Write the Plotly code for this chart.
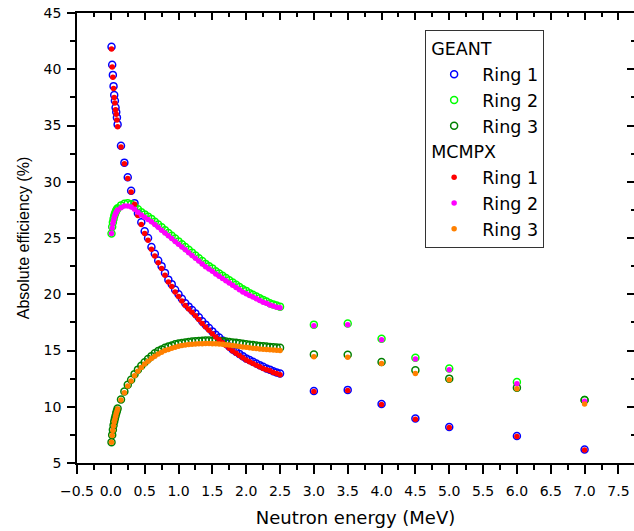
import plotly.graph_objects as go

# Neutron energy grid (MeV)
energy = [0.01, 0.02, 0.03, 0.04, 0.05, 0.06, 0.07, 0.08, 0.09, 0.10,
          0.15, 0.20, 0.25, 0.30, 0.35, 0.40, 0.45, 0.50, 0.55, 0.60,
          0.65, 0.70, 0.75, 0.80, 0.85, 0.90, 0.95, 1.00,
          1.05, 1.10, 1.15, 1.20, 1.25, 1.30, 1.35, 1.40, 1.45, 1.50,
          1.55, 1.60, 1.65, 1.70, 1.75, 1.80, 1.85, 1.90, 1.95, 2.00,
          2.05, 2.10, 2.15, 2.20, 2.25, 2.30, 2.35, 2.40, 2.45, 2.50,
          3.0, 3.5, 4.0, 4.5, 5.0, 6.0, 7.0]

# Absolute efficiency (%) - GEANT
geant_ring1 = [42.0, 40.4, 39.5, 38.5, 37.7, 37.2, 36.6, 36.2, 35.7, 35.1,
               33.2, 31.7, 30.4, 29.2, 28.1, 27.2, 26.4, 25.6, 25.0, 24.2,
               23.6, 23.0, 22.5, 21.9, 21.3, 20.9, 20.4, 20.0,
               19.6, 19.2, 18.9, 18.6, 18.3, 17.95, 17.6, 17.3, 17.0, 16.7,
               16.4, 16.15, 15.9, 15.65, 15.35, 15.1, 14.9, 14.7, 14.5, 14.3,
               14.15, 14.0, 13.85, 13.7, 13.55, 13.4, 13.3, 13.15, 13.05, 12.95,
               11.4, 11.5, 10.25, 8.95, 8.2, 7.4, 6.2]
geant_ring2 = [25.4, 26.0, 26.4, 26.7, 26.95, 27.15, 27.3, 27.45, 27.55, 27.65,
               27.9, 28.05, 28.1, 28.0, 27.8, 27.55, 27.3, 27.1, 26.9, 26.7,
               26.45, 26.2, 25.95, 25.7, 25.45, 25.2, 24.95, 24.7,
               24.45, 24.2, 23.95, 23.7, 23.45, 23.2, 22.95, 22.7, 22.5, 22.3,
               22.05, 21.85, 21.65, 21.45, 21.25, 21.05, 20.85, 20.65, 20.45, 20.3,
               20.1, 19.95, 19.8, 19.65, 19.5, 19.35, 19.2, 19.1, 19.0, 18.9,
               17.3, 17.4, 16.05, 14.35, 13.4, 12.2, 10.6]
geant_ring3 = [6.85, 7.5, 7.95, 8.35, 8.7, 8.95, 9.2, 9.45, 9.65, 9.85,
               10.65, 11.35, 11.95, 12.4, 12.9, 13.3, 13.65, 13.95, 14.25, 14.5,
               14.75, 14.95, 15.1, 15.25, 15.35, 15.45, 15.55, 15.62,
               15.67, 15.72, 15.76, 15.8, 15.83, 15.85, 15.87, 15.88, 15.88, 15.87,
               15.86, 15.84, 15.82, 15.79, 15.76, 15.72, 15.68, 15.64, 15.6, 15.56,
               15.52, 15.48, 15.45, 15.41, 15.38, 15.35, 15.32, 15.3, 15.27, 15.25,
               14.65, 14.62, 13.97, 13.25, 12.5, 11.7, 10.6]

# Absolute efficiency (%) - MCMPX
mcmpx_ring1 = [41.8, 40.2, 39.3, 38.3, 37.5, 37.0, 36.4, 36.0, 35.5, 34.9,
               33.1, 31.6, 30.3, 29.1, 28.0, 27.0, 26.2, 25.4, 24.8, 24.0,
               23.4, 22.8, 22.3, 21.7, 21.1, 20.7, 20.2, 19.8,
               19.4, 19.0, 18.7, 18.4, 18.1, 17.75, 17.4, 17.1, 16.8, 16.5,
               16.2, 15.95, 15.7, 15.45, 15.2, 14.95, 14.75, 14.55, 14.35, 14.15,
               14.0, 13.85, 13.7, 13.55, 13.4, 13.3, 13.2, 13.05, 12.95, 12.85,
               11.35, 11.45, 10.2, 8.9, 8.15, 7.35, 6.15]
mcmpx_ring2 = [25.4, 25.9, 26.3, 26.55, 26.8, 27.0, 27.15, 27.3, 27.4, 27.5,
               27.7, 27.85, 27.85, 27.75, 27.55, 27.3, 27.05, 26.85, 26.65, 26.45,
               26.2, 25.95, 25.7, 25.45, 25.2, 24.95, 24.7, 24.45,
               24.2, 23.95, 23.7, 23.45, 23.2, 22.95, 22.7, 22.45, 22.25, 22.05,
               21.8, 21.6, 21.4, 21.2, 21.0, 20.8, 20.6, 20.4, 20.2, 20.05,
               19.9, 19.75, 19.6, 19.45, 19.3, 19.2, 19.05, 18.95, 18.85, 18.8,
               17.2, 17.3, 15.95, 14.25, 13.3, 12.05, 10.5]
mcmpx_ring3 = [6.85, 7.45, 7.9, 8.3, 8.65, 8.9, 9.15, 9.4, 9.6, 9.8,
               10.6, 11.25, 11.85, 12.3, 12.75, 13.15, 13.5, 13.8, 14.05, 14.3,
               14.5, 14.7, 14.85, 15.0, 15.1, 15.2, 15.3, 15.38,
               15.44, 15.49, 15.53, 15.56, 15.58, 15.6, 15.61, 15.62, 15.62, 15.61,
               15.6, 15.58, 15.55, 15.52, 15.48, 15.44, 15.4, 15.36, 15.32, 15.28,
               15.24, 15.2, 15.17, 15.14, 15.11, 15.08, 15.06, 15.04, 15.02, 15.0,
               14.45, 14.4, 13.85, 12.95, 12.4, 11.6, 10.25]

ring_names = ["Ring 1", "Ring 2", "Ring 3"]
geant_colors = ["#0000FF", "#00FF00", "#008000"]
mcmpx_colors = ["#FF0000", "#FF00FF", "#FF8000"]

FONT = "DejaVu Sans, Arial, sans-serif"
NARROW = "Liberation Sans, Arial, sans-serif"
X_RANGE = [-0.5, 7.73]
Y_RANGE = [5, 45]

fig = go.Figure()

for name, ys, col in zip(ring_names, [geant_ring1, geant_ring2, geant_ring3], geant_colors):
    fig.add_trace(go.Scatter(
        x=energy, y=ys, mode="markers", name=name,
        legendgroup="geant", legendgrouptitle=dict(text="GEANT"),
        marker=dict(symbol="circle-open", size=7, color=col, line=dict(width=1.5, color=col)),
    ))

for name, ys, col in zip(ring_names, [mcmpx_ring1, mcmpx_ring2, mcmpx_ring3], mcmpx_colors):
    fig.add_trace(go.Scatter(
        x=energy, y=ys, mode="markers", name=name,
        legendgroup="mcmpx", legendgrouptitle=dict(text="MCMPX"),
        marker=dict(symbol="circle", size=5.5, color=col),
    ))

# empty trace that carries the mirrored top/right axes
fig.add_trace(go.Scatter(x=[], y=[], xaxis="x2", yaxis="y2", showlegend=False, hoverinfo="skip"))

fig.update_layout(
    width=634, height=531,
    margin=dict(l=77, r=0, t=13, b=68),
    paper_bgcolor="white", plot_bgcolor="white",
    font=dict(family=FONT, color="black", size=14),
    xaxis=dict(
        range=X_RANGE, dtick=0.5, tick0=-0.5, tickformat=".1f",
        showgrid=False, zeroline=False, showline=True, linecolor="black", linewidth=1.5,
        ticks="outside", ticklen=9, tickwidth=1.5, tickcolor="black",
        minor=dict(dtick=0.25, ticks="outside", ticklen=5, tickwidth=1.5, tickcolor="black"),
        ticklabelstandoff=5,
        tickfont=dict(size=14),
        title=dict(text="Neutron energy (MeV)", font=dict(size=18), standoff=14),
    ),
    yaxis=dict(
        range=Y_RANGE, dtick=5, tick0=5,
        showgrid=False, zeroline=False, showline=True, linecolor="black", linewidth=1.5,
        ticks="outside", ticklen=8, tickwidth=1.5, tickcolor="black",
        minor=dict(dtick=2.5, ticks="outside", ticklen=5, tickwidth=1.5, tickcolor="black"),
        ticklabelstandoff=3,
        tickfont=dict(size=14),
        title=dict(text="Absolute efficiency (%)", font=dict(family=NARROW, size=16), standoff=10),
    ),
    xaxis2=dict(
        overlaying="x", side="top", anchor="y2", range=X_RANGE, dtick=0.5, tick0=-0.5,
        showgrid=False, zeroline=False, showline=True, linecolor="black", linewidth=1.5,
        ticks="inside", ticklen=7, tickwidth=1.5, tickcolor="black", showticklabels=False,
        minor=dict(dtick=0.25, ticks="inside", ticklen=4, tickwidth=1.5, tickcolor="black"),
    ),
    yaxis2=dict(
        overlaying="y", side="right", anchor="x2", range=Y_RANGE, dtick=5, tick0=5,
        showgrid=False, zeroline=False, showline=False,
        ticks="inside", ticklen=7, tickwidth=1.5, tickcolor="black", showticklabels=False,
        minor=dict(dtick=2.5, ticks="inside", ticklen=3, tickwidth=1.5, tickcolor="black"),
    ),
    legend=dict(
        x=0.625, y=0.963, xanchor="left", yanchor="top",
        bordercolor="#333333", borderwidth=1, bgcolor="white",
        font=dict(family=FONT, size=17.5), tracegroupgap=0,
        grouptitlefont=dict(family=FONT, size=17.5),
        itemwidth=46,
    ),
    showlegend=True,
)

fig.write_html("out.html")
